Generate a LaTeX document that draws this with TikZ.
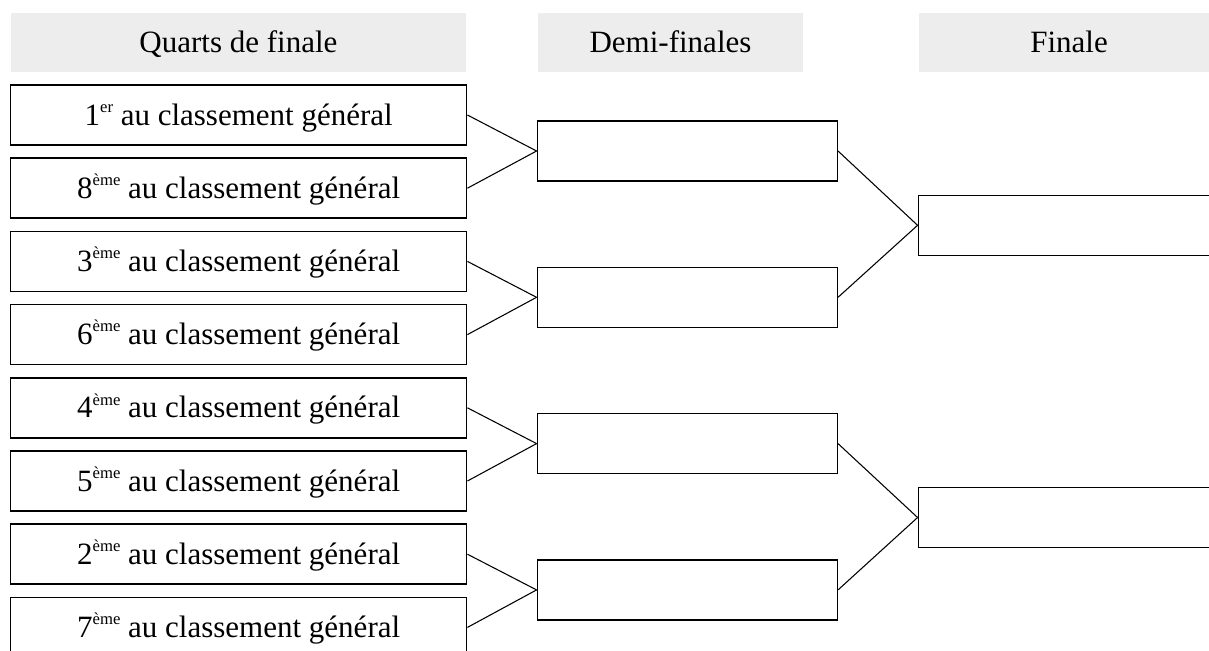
\documentclass[tikz,border=0pt]{standalone}
\usepackage{fontspec}
\setmainfont{Liberation Serif}
\definecolor{hdrgray}{RGB}{237,237,237}
\newcommand\supx[1]{\raisebox{9.5pt}{\fontsize{12.5}{12.5}\selectfont #1}}
\begin{document}
\begin{tikzpicture}[x=0.75pt,y=-0.75pt,
  txt/.style={font=\fontsize{23.25}{28}\selectfont, text height=15pt, text depth=0pt, inner sep=0pt, align=center},
  hdr/.style={txt, fill=hdrgray, minimum height=43.8pt},
  qbox/.style={txt, draw, line width=1.1pt, minimum width=342pt, minimum height=45pt},
  dbox/.style={draw, line width=1.1pt, minimum width=225pt, minimum height=45pt, inner sep=0pt},
  link/.style={line width=0.8pt}]
\useasboundingbox (0,0) rectangle (1209,650);
\clip (0,0) rectangle (1209,650);
% headers
\node[hdr, minimum width=341.5pt] (h1) at (238.4,42.5) {Quarts de finale};
\node[hdr, minimum width=198.75pt] (h2) at (670.5,42.5) {Demi-finales};
\node[hdr, minimum width=225pt] (h3) at (1069,42.5) {Finale};
% quarter-finals
\node[qbox] (q1) at (238.7,115) {1\supx{er} au classement général};
\node[qbox] (q2) at (238.7,188.2) {8\supx{ème} au classement général};
\node[qbox] (q3) at (238.7,261.4) {3\supx{ème} au classement général};
\node[qbox] (q4) at (238.7,334.6) {6\supx{ème} au classement général};
\node[qbox] (q5) at (238.7,407.8) {4\supx{ème} au classement général};
\node[qbox] (q6) at (238.7,481) {5\supx{ème} au classement général};
\node[qbox] (q7) at (238.7,554.2) {2\supx{ème} au classement général};
\node[qbox] (q8) at (238.7,627.4) {7\supx{ème} au classement général};
% semi-finals
\node[dbox] (d1) at (687.3,151) {};
\node[dbox] (d2) at (687.3,297.3) {};
\node[dbox] (d3) at (687.3,443.6) {};
\node[dbox] (d4) at (687.3,589.9) {};
% finals
\node[dbox] (f1) at (1068.3,225.3) {};
\node[dbox] (f2) at (1068.3,517.5) {};
% connectors
\draw[link] (q1.east) -- (d1.west);
\draw[link] (q2.east) -- (d1.west);
\draw[link] (q3.east) -- (d2.west);
\draw[link] (q4.east) -- (d2.west);
\draw[link] (q5.east) -- (d3.west);
\draw[link] (q6.east) -- (d3.west);
\draw[link] (q7.east) -- (d4.west);
\draw[link] (q8.east) -- (d4.west);
\draw[link] (d1.east) -- (f1.west);
\draw[link] (d2.east) -- (f1.west);
\draw[link] (d3.east) -- (f2.west);
\draw[link] (d4.east) -- (f2.west);
\end{tikzpicture}
\end{document}
